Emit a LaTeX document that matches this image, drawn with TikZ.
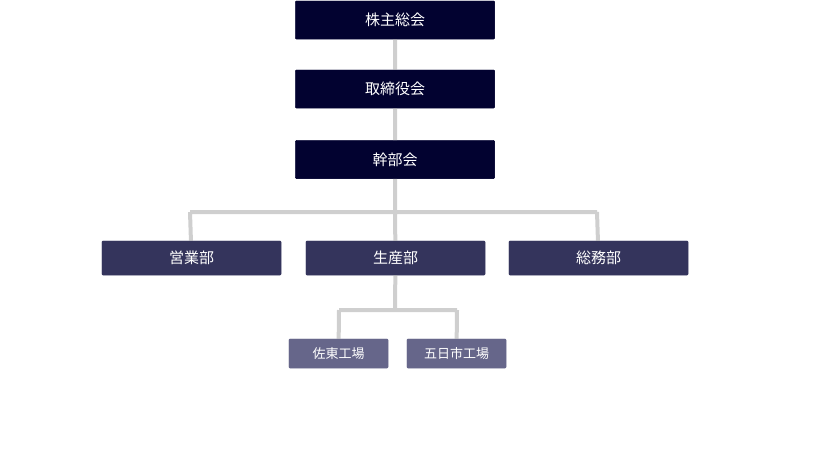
\documentclass[tikz,border=0pt]{standalone}
\usepackage{fontspec}
\newfontfamily\cjk{Noto Sans CJK JP}
\usetikzlibrary{positioning}
\definecolor{navy}{HTML}{020230}
\definecolor{midnavy}{HTML}{34345C}
\definecolor{greynavy}{HTML}{66668A}
\definecolor{wire}{HTML}{CFCFCF}
\tikzset{
  top/.style={fill=navy, draw=navy, rounded corners=1pt, minimum width=199pt, minimum height=38pt, text=white, font=\cjk\fontsize{15}{15}\selectfont},
  dept/.style={fill=midnavy, draw=midnavy, rounded corners=1pt, minimum width=179pt, minimum height=34pt, text=white, font=\cjk\fontsize{15}{15}\selectfont},
  plant/.style={fill=greynavy, draw=greynavy, rounded corners=1pt, minimum width=99pt, minimum height=29pt, text=white, font=\cjk\fontsize{13}{13}\selectfont},
  link/.style={draw=wire, line width=4pt}
}
\begin{document}
\begin{tikzpicture}[x=1pt,y=-1pt]
\useasboundingbox (0,0) rectangle (837,459);
% wires first
\coordinate (bus) at (395,212);
\coordinate (busL) at (190,212);
\coordinate (busR) at (597,212);
\coordinate (sub) at (395,310);
\coordinate (subL) at (339,310);
\coordinate (subR) at (457,310);
\node[top] (gm) at (395,20) {株主総会};
\node[top] (board) at (395,89) {取締役会};
\node[top] (exec) at (395,159.5) {幹部会};
\node[dept] (sales) at (191.5,258) {営業部};
\node[dept] (prod) at (395.5,258) {生産部};
\node[dept] (admin) at (598.5,258) {総務部};
\node[plant] (sato) at (338.5,353.5) {佐東工場};
\node[plant] (itsuka) at (456.5,353.5) {五日市工場};
\begin{scope}[on background layer/.style={}]
\end{scope}
\path[link] (gm) -- (board) (board) -- (exec) (exec) -- (bus)
  (busL) -- (busR) (busL) -- (sales) (bus) -- (prod) (busR) -- (admin)
  (prod) -- (sub) (subL) -- (subR) (subL) -- (sato) (subR) -- (itsuka);
% redraw boxes over wires
\node[top] at (gm) {株主総会};
\node[top] at (board) {取締役会};
\node[top] at (exec) {幹部会};
\node[dept] at (sales) {営業部};
\node[dept] at (prod) {生産部};
\node[dept] at (admin) {総務部};
\node[plant] at (sato) {佐東工場};
\node[plant] at (itsuka) {五日市工場};
\end{tikzpicture}
\end{document}
